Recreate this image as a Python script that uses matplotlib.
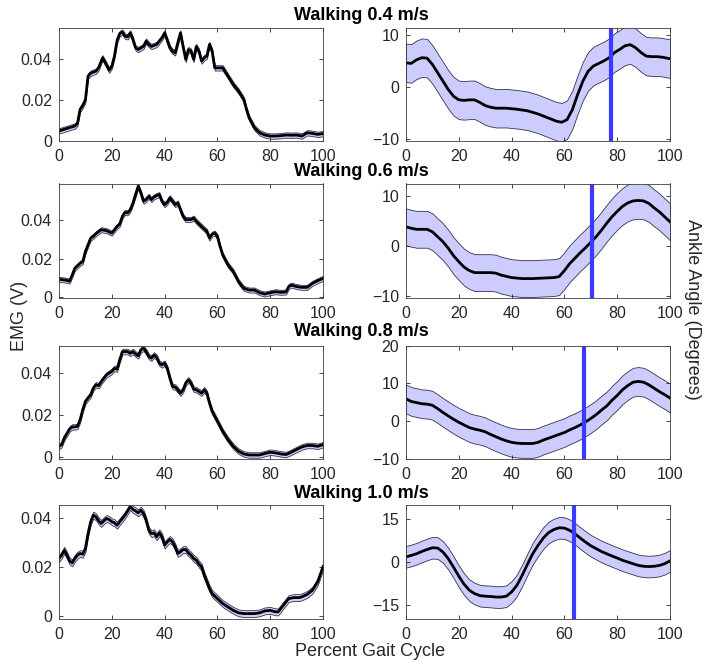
import numpy as np
import matplotlib
matplotlib.use("Agg")
import matplotlib.pyplot as plt

plt.rcParams['font.family'] = ['Liberation Sans', 'DejaVu Sans']

speeds = ["Walking 0.4 m/s", "Walking 0.6 m/s", "Walking 0.8 m/s", "Walking 1.0 m/s"]

# EMG mean curves (V) vs percent gait cycle
emg1_x = [0, 2, 4, 6, 7, 8, 9, 10, 11, 12, 14, 15, 16.5, 18, 19, 20, 21, 22, 23, 24, 25, 26, 27, 28, 29,
          30, 31, 32, 33, 34, 35, 37, 38, 39, 40, 41, 42, 43, 44, 45, 46, 47, 48, 49, 50, 51, 52, 53, 54,
          55, 56, 57, 58, 59, 60, 62, 64, 66, 68, 70, 71, 72, 74, 76, 78, 80, 82, 84, 86, 88, 90, 92, 94,
          96, 98, 100]
emg1_y = [0.0049, 0.0057, 0.0065, 0.0073, 0.0086, 0.0154, 0.0173, 0.0200, 0.0316, 0.0330, 0.0340, 0.0356,
          0.0405, 0.0370, 0.0345, 0.0364, 0.0413, 0.0490, 0.0523, 0.0530, 0.0510, 0.0507, 0.0526, 0.0494,
          0.0453, 0.0445, 0.0453, 0.0460, 0.0486, 0.0470, 0.0460, 0.0470, 0.0486, 0.0502, 0.0526, 0.0490,
          0.0453, 0.0437, 0.0429, 0.0478, 0.0526, 0.0460, 0.0397, 0.0445, 0.0437, 0.0397, 0.0460, 0.0437,
          0.0389, 0.0405, 0.0413, 0.0470, 0.0437, 0.0356, 0.0356, 0.0356, 0.0316, 0.0275, 0.0243, 0.0202,
          0.0154, 0.0113, 0.0065, 0.0040, 0.0029, 0.0024, 0.0024, 0.0026, 0.0029, 0.0028, 0.0029, 0.0024,
          0.0040, 0.0037, 0.0032, 0.0036]

emg2_x = [0, 2, 4, 5, 6, 8, 9, 10, 12, 13, 14, 16, 18, 20, 22, 23, 24, 25, 26, 27, 28, 29, 30, 31, 32,
          33, 34, 35, 36, 37, 38, 39, 40, 41, 42, 43, 44, 45, 46, 47, 48, 50, 51, 52, 54, 56, 57, 58, 59,
          60, 61, 62, 64, 66, 68, 70, 72, 74, 76, 78, 80, 82, 84, 86, 87, 88, 90, 92, 94, 96, 98, 100]
emg2_y = [0.0091, 0.0088, 0.0082, 0.0114, 0.0149, 0.0175, 0.0184, 0.0237, 0.0307, 0.0316, 0.0330, 0.0351,
          0.0346, 0.0333, 0.0368, 0.0380, 0.0421, 0.0442, 0.0439, 0.0456, 0.0491, 0.0535, 0.0579, 0.0544,
          0.0500, 0.0509, 0.0526, 0.0509, 0.0523, 0.0530, 0.0535, 0.0500, 0.0482, 0.0495, 0.0518, 0.0500,
          0.0482, 0.0491, 0.0456, 0.0421, 0.0404, 0.0404, 0.0412, 0.0395, 0.0368, 0.0342, 0.0307, 0.0328,
          0.0333, 0.0316, 0.0263, 0.0219, 0.0167, 0.0132, 0.0079, 0.0044, 0.0035, 0.0035, 0.0021, 0.0014,
          0.0021, 0.0026, 0.0023, 0.0025, 0.0053, 0.0061, 0.0053, 0.0049, 0.0049, 0.0070, 0.0084, 0.0096]

emg3_x = [0, 1, 2, 4, 5, 6, 7, 8, 9, 10, 11, 12, 13, 14, 15, 16, 17, 18, 20, 21, 22, 23, 24, 26, 27, 28,
          29, 30, 31, 32, 33, 34, 35, 36, 37, 38, 39, 40, 41, 42, 43, 44, 45, 46, 47, 48, 49, 50, 51, 52,
          53, 54, 55, 56, 57, 58, 60, 62, 64, 66, 68, 70, 72, 74, 76, 78, 80, 82, 84, 86, 88, 90, 92, 94,
          96, 98, 100]
emg3_y = [0.0050, 0.0058, 0.0090, 0.0132, 0.0142, 0.0142, 0.0145, 0.0176, 0.0224, 0.0263, 0.0279, 0.0294,
          0.0326, 0.0342, 0.0337, 0.0357, 0.0373, 0.0389, 0.0405, 0.0420, 0.0416, 0.0460, 0.0499, 0.0499,
          0.0491, 0.0499, 0.0488, 0.0479, 0.0507, 0.0515, 0.0499, 0.0476, 0.0468, 0.0483, 0.0472, 0.0444,
          0.0436, 0.0444, 0.0420, 0.0373, 0.0334, 0.0331, 0.0318, 0.0302, 0.0318, 0.0350, 0.0365, 0.0350,
          0.0321, 0.0318, 0.0310, 0.0302, 0.0318, 0.0302, 0.0255, 0.0216, 0.0169, 0.0121, 0.0082, 0.0050,
          0.0027, 0.0014, 0.0009, 0.0009, 0.0009, 0.0016, 0.0022, 0.0019, 0.0014, 0.0011, 0.0022, 0.0035,
          0.0047, 0.0054, 0.0054, 0.0050, 0.0058]

emg4_x = [0, 1, 2, 3, 4, 5, 6, 7, 8, 9, 10, 11, 12, 13, 14, 15, 16, 17, 18, 19, 20, 21, 22, 23, 24, 25,
          26, 27, 28, 29, 30, 31, 32, 33, 34, 35, 36, 37, 38, 39, 40, 41, 42, 43, 44, 45, 46, 47, 48, 49,
          50, 51, 52, 53, 54, 55, 56, 57, 58, 60, 62, 64, 66, 68, 70, 72, 74, 76, 78, 80, 82, 83, 85, 87,
          89, 91, 92, 94, 96, 98, 100]
emg4_y = [0.0235, 0.0248, 0.0268, 0.0248, 0.0225, 0.0217, 0.0235, 0.0248, 0.0255, 0.0252, 0.0275, 0.0336,
          0.0384, 0.0411, 0.0404, 0.0388, 0.0377, 0.0388, 0.0397, 0.0393, 0.0384, 0.0380, 0.0370, 0.0384,
          0.0397, 0.0411, 0.0428, 0.0445, 0.0434, 0.0428, 0.0420, 0.0431, 0.0418, 0.0390, 0.0350, 0.0336,
          0.0339, 0.0323, 0.0339, 0.0323, 0.0289, 0.0302, 0.0312, 0.0302, 0.0282, 0.0255, 0.0262, 0.0271,
          0.0271, 0.0258, 0.0248, 0.0235, 0.0228, 0.0212, 0.0201, 0.0167, 0.0140, 0.0113, 0.0092, 0.0072,
          0.0052, 0.0038, 0.0024, 0.0014, 0.0011, 0.0011, 0.0011, 0.0014, 0.0022, 0.0024, 0.0018, 0.0018,
          0.0045, 0.0072, 0.0076, 0.0076, 0.0079, 0.0089, 0.0106, 0.0140, 0.0201]

# ankle angle mean curves (degrees)
ang1_x = [0, 2, 4, 6, 8, 10, 12, 14, 16, 18, 20, 22, 24, 26, 28, 30, 32, 34, 38, 42, 46, 50, 54, 57, 59,
          61, 63, 65, 67, 69, 71, 73, 75, 77, 79, 81, 83, 85, 87, 89, 91, 93, 95, 97, 100]
ang1_y = [4.6, 4.5, 5.2, 5.6, 5.5, 4.3, 2.7, 1.1, -0.5, -1.8, -2.5, -2.6, -2.5, -2.5, -3.0, -3.6, -3.9,
          -4.1, -4.1, -4.3, -4.6, -5.2, -6.0, -6.6, -6.8, -6.3, -4.4, -1.5, 1.1, 3.0, 4.0, 4.5, 5.0, 5.6,
          6.6, 7.2, 7.9, 8.1, 7.5, 6.6, 5.9, 5.8, 5.8, 5.7, 5.4]

ang2_x = [0, 2, 4, 8, 10, 12, 14, 16, 18, 20, 22, 24, 26, 28, 32, 34, 36, 40, 44, 48, 52, 56, 58, 60, 62,
          64, 66, 68, 70, 72, 74, 76, 78, 80, 82, 84, 86, 88, 90, 92, 94, 96, 98, 100]
ang2_y = [3.8, 3.5, 3.3, 3.3, 2.8, 1.8, 0.8, -0.5, -2.0, -3.2, -4.3, -5.0, -5.4, -5.4, -5.4, -5.5, -5.9,
          -6.4, -6.6, -6.6, -6.5, -6.4, -6.2, -5.0, -3.6, -2.5, -1.4, -0.4, 0.7, 1.8, 3.1, 4.5, 5.8, 6.9,
          7.9, 8.6, 9.0, 9.1, 9.0, 8.5, 7.6, 6.8, 5.8, 4.8]

ang3_x = list(range(0, 101, 2))
ang3_y = [5.9, 5.2, 4.9, 4.6, 4.5, 4.2, 3.3, 2.3, 1.4, 0.5, -0.3, -1.0, -1.7, -2.1, -2.4, -2.8, -3.5,
          -4.1, -4.7, -5.2, -5.6, -5.8, -5.9, -5.9, -5.9, -5.6, -5.0, -4.5, -4.0, -3.5, -3.0, -2.3, -1.7,
          -1.0, -0.2, 0.7, 1.7, 2.9, 4.0, 5.5, 6.8, 8.3, 9.4, 10.3, 10.5, 10.3, 9.6, 8.7, 7.8, 7.0, 6.1]

ang4_x = list(range(0, 101, 2))
ang4_y = [1.8, 2.3, 2.9, 3.7, 4.4, 5.0, 4.9, 3.5, 1.2, -1.8, -5.0, -7.8, -9.9, -11.1, -11.8, -12.0,
          -12.1, -12.3, -12.3, -12.0, -10.5, -8.2, -4.7, -0.8, 2.9, 5.8, 8.4, 10.3, 11.4, 12.0, 11.9, 11.1,
          9.9, 8.4, 7.0, 5.7, 4.7, 3.7, 2.9, 2.1, 1.4, 0.6, 0.0, -0.6, -1.2, -1.5, -1.6, -1.5, -1.2, -0.6,
          0.4]

emg_sd = [0.0013, 0.0013, 0.0013, 0.0014]
ang_sd = [3.7, 3.7, 3.8, 3.8]
toe_off = [77.5, 70.6, 67.4, 63.5]

emg_ylim = [(0, 0.055), (-0.0004, 0.0593), (-0.001, 0.0528), (-0.0011, 0.0452)]
ang_ylim = [(-10.4, 11.3), (-10.4, 12.5), (-10, 20), (-20, 20)]
ang_ticks = [[-10, 0, 10], [-10, 0, 10], [-10, 0, 10, 20], [-15, 0, 15]]

emg_x = [emg1_x, emg2_x, emg3_x, emg4_x]
emg_y = [emg1_y, emg2_y, emg3_y, emg4_y]
ang_x = [ang1_x, ang2_x, ang3_x, ang4_x]
ang_y = [ang1_y, ang2_y, ang3_y, ang4_y]

fig = plt.figure(figsize=(7.1, 6.64), dpi=100)

W, H = 710, 664
row_top = [28, 183.5, 345.5, 505]
row_bot = [141, 297.5, 459, 619]
lefts = [59, 406]
ax_w = 264

band_face = '#ccccff'
band_edge = '#33334d'
axis_col = '#404040'


def style(ax):
    ax.set_xlim(0, 100)
    ax.set_xticks([0, 20, 40, 60, 80, 100])
    ax.tick_params(direction='in', length=3, width=0.6, top=True, right=True,
                   labelsize=11.5, colors='#262626', pad=5)
    ax.tick_params(axis='x', pad=6)
    for s in ax.spines.values():
        s.set_color(axis_col)
        s.set_linewidth(0.6)


for i in range(4):
    b = 1 - row_bot[i] / H
    h = (row_bot[i] - row_top[i]) / H

    ax = fig.add_axes([lefts[0] / W, b, ax_w / W, h])
    x = np.array(emg_x[i])
    y = np.array(emg_y[i])
    ax.fill_between(x, y - emg_sd[i], y + emg_sd[i], facecolor=band_face,
                    edgecolor=band_edge, linewidth=0.6)
    ax.plot(x, y, color='black', lw=2)
    ax.set_ylim(*emg_ylim[i])
    ax.set_yticks([0, 0.02, 0.04])
    ax.set_yticklabels(['0', '0.02', '0.04'])
    style(ax)

    ax2 = fig.add_axes([lefts[1] / W, b, ax_w / W, h])
    x = np.array(ang_x[i])
    y = np.array(ang_y[i])
    ax2.fill_between(x, y - ang_sd[i], y + ang_sd[i], facecolor=band_face,
                     edgecolor=band_edge, linewidth=0.6)
    ax2.plot(x, y, color='black', lw=2)
    ax2.axvline(toe_off[i], color='#3a3aff', lw=3)
    ax2.set_ylim(*ang_ylim[i])
    ax2.set_yticks(ang_ticks[i])
    style(ax2)

title_y = [15.5, 172, 332, 493]
for i, t in enumerate(speeds):
    fig.text(361 / W, 1 - title_y[i] / H, t, ha='center', va='center',
             fontsize=13, fontweight='bold')

fig.text(20 / W, 1 - 316 / H, 'EMG (V)', rotation=90, ha='center', va='center',
         fontsize=13, color='#262626')
fig.text(692 / W, 1 - 309 / H, 'Ankle Angle (Degrees)', rotation=270, ha='center',
         va='center', fontsize=13, color='#262626')
fig.text(370 / W, 1 - 652 / H, 'Percent Gait Cycle', ha='center', va='center',
         fontsize=13, color='#262626')

fig.savefig('out.png', dpi=100)
